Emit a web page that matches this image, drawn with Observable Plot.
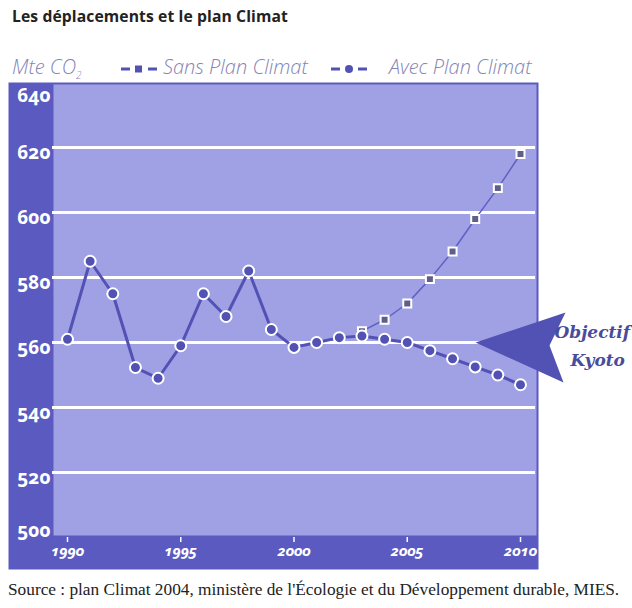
<!DOCTYPE html>
<html><head><meta charset="utf-8">
<script src="https://cdn.jsdelivr.net/npm/d3@7"></script>
<script src="https://cdn.jsdelivr.net/npm/@observablehq/plot@0.6"></script>
<style>
body{margin:0;background:#fff;width:632px;height:608px;position:relative;overflow:hidden;}
#title{position:absolute;left:12px;top:5px;font:700 15.7px "Open Sans";color:#222;white-space:nowrap;letter-spacing:0.1px;}
.lg{position:absolute;top:53px;font:italic 300 20px "Open Sans";color:#8484b4;white-space:nowrap;}
.mk{position:absolute;top:64px;}
#chart{position:absolute;left:0;top:78px;}
#caption{position:absolute;left:8px;top:580px;font:17.3px "Liberation Serif";color:#222;white-space:nowrap;}
svg text{font-variant-numeric:oldstyle-nums;font-feature-settings:"onum" 1;}
</style></head><body>
<div id="title">Les déplacements et le plan Climat</div>
<div class="lg" style="left:12px">Mte CO<sub style="font-size:10px">2</sub></div>
<svg class="mk" style="left:121px" width="36" height="10"><line x1="0" y1="5" x2="36" y2="5" stroke="#5252b4" stroke-width="3" stroke-dasharray="9 18 9"/><rect x="14" y="1.5" width="7" height="7" fill="#5252b4"/></svg>
<div class="lg" style="left:163px">Sans Plan Climat</div>
<svg class="mk" style="left:331px" width="36" height="10"><line x1="0" y1="5" x2="36" y2="5" stroke="#5252b4" stroke-width="3" stroke-dasharray="9 18 9"/><circle cx="18" cy="5" r="4" fill="#5252b4"/></svg>
<div class="lg" style="left:389px">Avec Plan Climat</div>
<div id="chart"></div>
<div id="caption">Source : plan Climat 2004, ministère de l'Écologie et du Développement durable, MIES.</div>
<script>
// Data
const years = [1990,1991,1992,1993,1994,1995,1996,1997,1998,1999,2000,2001,2002,2003,2004,2005,2006,2007,2008,2009,2010];
const avecValues = [561,585,575,552.3,549,559,575,568,582,564,558.5,560,561.5,562,561,560,557.5,555,552.5,550,547];
const sansYears = [2003,2004,2005,2006,2007,2008,2009,2010];
const sansValues = [563.5,567,572,579.5,588,598,607.5,618];
const yTicks = [500,520,540,560,580,600,620,640];
const gridValues = [520,540,560,580,600,620];
const xTicks = [1990,1995,2000,2005,2010];
const kyotoTarget = 560;
const kyotoWords = ["Objectif","Kyoto"];

const avec = years.map((y,i)=>({year:y,value:avecValues[i]}));
const sans = sansYears.map((y,i)=>({year:y,value:sansValues[i]}));

const dark = "#5a5ac0", light = "#a0a0e4", lineCol = "#5252b4";
const arrowSymbol = {draw(ctx){ctx.moveTo(-45,0);ctx.lineTo(45,-30);ctx.lineTo(29,3);ctx.lineTo(43,40);ctx.closePath();}};
const numFont = "Noto Sans";

const chart = Plot.plot({
  width:632, height:500,
  marginLeft:67, marginRight:112, marginTop:4, marginBottom:41,
  x:{domain:[1990,2010], axis:null},
  y:{domain:[500,640], axis:null},
  style:{background:"transparent", overflow:"visible"},
  marks:[
    Plot.frame({fill:dark, insetLeft:-59, insetRight:-18, insetTop:0, insetBottom:-32}),
    Plot.frame({fill:light, insetLeft:-14, insetRight:-16, insetTop:2, insetBottom:2}),
    Plot.ruleY(gridValues, {stroke:"white", strokeWidth:3, insetLeft:-15, insetRight:-15}),
    Plot.line(sans, {x:"year", y:"value", stroke:"#6060c4", strokeWidth:1.5}),
    Plot.dot(sans, {x:"year", y:"value", symbol:"square", r:4.5, fill:"#5f5f8a", stroke:"white", strokeWidth:2}),
    Plot.line(avec, {x:"year", y:"value", stroke:lineCol, strokeWidth:3}),
    Plot.dot(avec, {x:"year", y:"value", r:5.5, fill:lineCol, stroke:"white", strokeWidth:2}),
    Plot.dot([kyotoTarget], {y:d=>d, frameAnchor:"right", symbol:arrowSymbol, r:10, fill:lineCol, stroke:"none"}),
    Plot.text([kyotoTarget], {y:d=>d, frameAnchor:"right", text:()=>kyotoWords[0], dx:34, dy:-10, textAnchor:"start", fill:"#4b4b9b", fontFamily:"DejaVu Serif", fontStyle:"italic", fontWeight:"bold", fontSize:17}),
    Plot.text([kyotoTarget], {y:d=>d, frameAnchor:"right", text:()=>kyotoWords[1], dx:50, dy:18, textAnchor:"start", fill:"#4b4b9b", fontFamily:"DejaVu Serif", fontStyle:"italic", fontWeight:"bold", fontSize:17}),
    Plot.text(yTicks.filter(d=>d>500&&d<640), {y:d=>d, text:d=>String(d), frameAnchor:"left", dx:-17, dy:5, textAnchor:"end", fill:"white", fontFamily:numFont, fontWeight:"bold", fontSize:19}),
    Plot.text(yTicks.filter(d=>d===640), {y:d=>d, text:d=>String(d), frameAnchor:"left", dx:-17, dy:13, textAnchor:"end", fill:"white", fontFamily:numFont, fontWeight:"bold", fontSize:19}),
    Plot.text(yTicks.filter(d=>d===500), {y:d=>d, text:d=>String(d), frameAnchor:"left", dx:-17, dy:-7, textAnchor:"end", fill:"white", fontFamily:numFont, fontWeight:"bold", fontSize:19}),
    Plot.axisX(xTicks, {tickSize:5, stroke:"white", strokeWidth:1.5, fill:"white", tickPadding:3, tickFormat:d=>String(d), fontFamily:numFont, fontStyle:"italic", fontWeight:"bold", fontSize:15})
  ]
});
document.getElementById("chart").appendChild(chart);
</script>
</body></html>
